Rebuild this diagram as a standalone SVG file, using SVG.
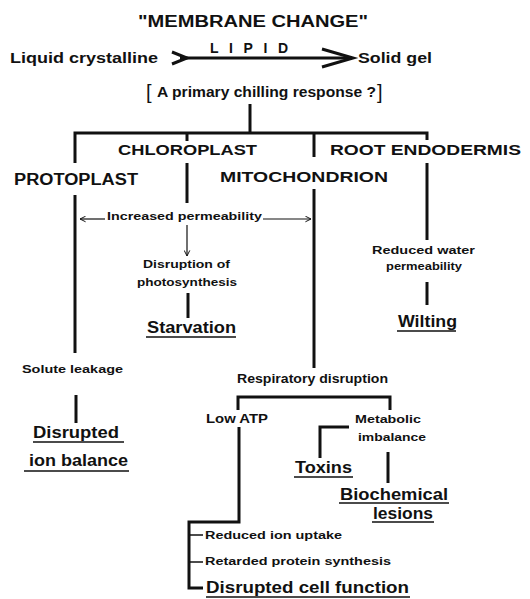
<svg xmlns="http://www.w3.org/2000/svg" width="530" height="599" viewBox="0 0 530 599">
<defs>
<style>
.t{font-family:"Liberation Sans",Arial,sans-serif;font-weight:bold;fill:#111}
.h{font-size:16px}
.m{font-size:15px}
.s{font-size:11.5px}
.b{stroke:#111;stroke-width:3;fill:none;stroke-linejoin:miter;stroke-linecap:butt}
.n{stroke:#111;stroke-width:1.2;fill:none}
.u{stroke:#111;stroke-width:1.6;fill:none}
</style>
<marker id="ah" viewBox="0 0 10 10" refX="9" refY="5" markerWidth="7" markerHeight="7" orient="auto" markerUnits="userSpaceOnUse">
<path d="M1,1 L9,5 L1,9" fill="none" stroke="#111" stroke-width="1.4"/>
</marker>
</defs>
<rect width="530" height="599" fill="#fff"/>

<g id="connectors">
<path class="b" d="M180,58 H350"/>
<path class="b" d="M172,52 L187,58 L172,64"/>
<path class="b" d="M322,49 L353,58 L322,67"/>
<path class="b" d="M250,104 V133"/>
<path class="b" d="M75,163 V133 H427 V140"/>
<path class="b" d="M187,133 V141"/>
<path class="b" d="M187,163 V203"/>
<path class="b" d="M314,133 V157"/>
<path class="b" d="M314,189 V368"/>
<path class="b" d="M75,195 V353"/>
<path class="b" d="M76,395 V423"/>
<path class="b" d="M427,163 V240"/>
<path class="b" d="M427,282 V305"/>
<path class="b" d="M188,293 V318"/>
<path class="b" d="M238,410 V397 H390 V410"/>
<path class="b" d="M239,427 V522 H189 V588 H203"/>
<path class="u" d="M189,535 H203 M189,562 H203"/>
<path class="b" d="M349,427 H320 V458"/>
<path class="b" d="M388,452 V483"/>
<path class="n" d="M105,219 H80" marker-end="url(#ah)"/>
<path class="n" d="M263,219 H311" marker-end="url(#ah)"/>
<path class="n" d="M187,225 V256" marker-end="url(#ah)"/>
<path class="u" d="M146,337 H236 M397,331 H456 M33,442 H124 M24,471 H129 M294,477 H353 M339,503 H449 M372,522 H434 M206,597 H410"/>
</g>

<g id="title"><text class="t h" x="138" y="27" textLength="230" lengthAdjust="spacingAndGlyphs">"MEMBRANE CHANGE"</text></g>
<g id="liquid"><text class="t" font-size="14" x="10" y="63" textLength="148" lengthAdjust="spacingAndGlyphs">Liquid crystalline</text></g>
<g id="lipid"><text class="t" font-size="14" x="210" y="53" textLength="78" lengthAdjust="spacing">LIPID</text></g>
<g id="solid"><text class="t" font-size="14" x="358" y="63" textLength="74" lengthAdjust="spacingAndGlyphs">Solid gel</text></g>
<g id="primary">
<text class="t" font-size="20" font-weight="normal" x="146" y="99" style="font-weight:normal">[</text>
<text class="t" font-size="14" x="157" y="97" textLength="219" lengthAdjust="spacingAndGlyphs">A primary chilling response ?</text>
<text class="t" font-size="20" x="377" y="99" style="font-weight:normal">]</text>
</g>
<g id="protoplast"><text class="t h" x="14" y="185" textLength="124" lengthAdjust="spacingAndGlyphs">PROTOPLAST</text></g>
<g id="chloroplast"><text class="t m" x="118" y="155" textLength="139" lengthAdjust="spacingAndGlyphs">CHLOROPLAST</text></g>
<g id="mitochondrion"><text class="t m" x="220" y="182" textLength="168" lengthAdjust="spacingAndGlyphs">MITOCHONDRION</text></g>
<g id="root"><text class="t m" x="330" y="155" textLength="191" lengthAdjust="spacingAndGlyphs">ROOT ENDODERMIS</text></g>
<g id="permeability"><text class="t s" x="107" y="220" textLength="155" lengthAdjust="spacingAndGlyphs">Increased permeability</text></g>
<g id="photosynthesis">
<text class="t s" x="143" y="268" textLength="87" lengthAdjust="spacingAndGlyphs">Disruption of</text>
<text class="t s" x="137" y="286" textLength="100" lengthAdjust="spacingAndGlyphs">photosynthesis</text>
</g>
<g id="starvation"><text class="t h" x="147" y="333" textLength="89" lengthAdjust="spacingAndGlyphs">Starvation</text></g>
<g id="water">
<text class="t s" x="372" y="254" textLength="103" lengthAdjust="spacingAndGlyphs">Reduced water</text>
<text class="t s" x="386" y="270" textLength="76" lengthAdjust="spacingAndGlyphs">permeability</text>
</g>
<g id="wilting"><text class="t h" x="398" y="327" textLength="59" lengthAdjust="spacingAndGlyphs">Wilting</text></g>
<g id="solute"><text class="t s" x="22" y="373" textLength="101" lengthAdjust="spacingAndGlyphs">Solute leakage</text></g>
<g id="ionbalance">
<text class="t h" x="33" y="438" textLength="86" lengthAdjust="spacingAndGlyphs">Disrupted</text>
<text class="t h" x="29" y="466" textLength="99" lengthAdjust="spacingAndGlyphs">ion balance</text>
</g>
<g id="respiratory"><text class="t" font-size="12" x="237" y="383" textLength="151" lengthAdjust="spacingAndGlyphs">Respiratory disruption</text></g>
<g id="lowatp"><text class="t" font-size="12" x="206" y="423" textLength="62" lengthAdjust="spacingAndGlyphs">Low ATP</text></g>
<g id="metabolic">
<text class="t s" x="355" y="423" textLength="66" lengthAdjust="spacingAndGlyphs">Metabolic</text>
<text class="t s" x="358" y="441" textLength="68" lengthAdjust="spacingAndGlyphs">imbalance</text>
</g>
<g id="toxins"><text class="t h" x="295" y="473" textLength="57" lengthAdjust="spacingAndGlyphs">Toxins</text></g>
<g id="biochemical">
<text class="t h" x="340" y="500" textLength="108" lengthAdjust="spacingAndGlyphs">Biochemical</text>
<text class="t h" x="373" y="519" textLength="60" lengthAdjust="spacingAndGlyphs">lesions</text>
</g>
<g id="ionuptake"><text class="t s" x="205" y="539" textLength="137" lengthAdjust="spacingAndGlyphs">Reduced ion uptake</text></g>
<g id="protein"><text class="t s" x="205" y="565" textLength="186" lengthAdjust="spacingAndGlyphs">Retarded protein synthesis</text></g>
<g id="cellfunction"><text class="t h" x="206" y="593" textLength="203" lengthAdjust="spacingAndGlyphs">Disrupted cell function</text></g>
</svg>
